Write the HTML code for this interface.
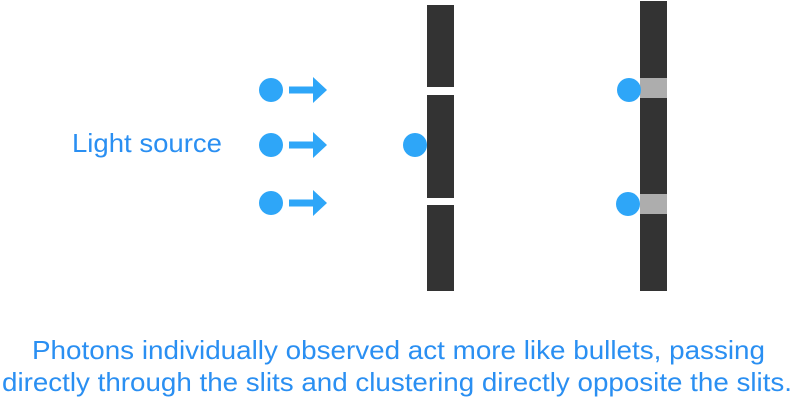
<!DOCTYPE html>
<html><head><style>
body{margin:0;background:#fff;width:794px;height:400px;overflow:hidden;}
</style></head><body>
<svg width="794" height="400" xmlns="http://www.w3.org/2000/svg">
<g fill="#2ea6f8">
<circle cx="271" cy="90" r="12"/><circle cx="271" cy="145" r="12"/><circle cx="271" cy="203" r="12"/>
<rect x="289" y="86.5" width="26" height="7"/><polygon points="313,77 327,90 313,103"/>
<rect x="289" y="141.5" width="26" height="7"/><polygon points="313,132 327,145 313,158"/>
<rect x="289" y="199.5" width="26" height="7"/><polygon points="313,190 327,203 313,216"/>
</g>
<g fill="#333">
<rect x="427" y="5" width="27" height="82"/>
<rect x="427" y="95" width="27" height="103"/>
<rect x="427" y="205" width="27" height="86"/>
<rect x="640" y="1" width="27" height="290"/>
</g>
<rect x="640" y="78" width="27" height="20" fill="#adadad"/>
<rect x="640" y="194" width="27" height="20" fill="#adadad"/>
<g fill="#2ea6f8">
<circle cx="415" cy="145" r="12"/>
<circle cx="629" cy="90" r="12"/>
<circle cx="628" cy="204" r="12"/>
</g>
<g font-family="Liberation Sans, sans-serif" font-size="26" fill="#2a8ff2">
<text x="72" y="152" textLength="150" lengthAdjust="spacingAndGlyphs">Light source</text>
<text x="32" y="359" textLength="733" lengthAdjust="spacingAndGlyphs">Photons individually observed act more like bullets, passing</text>
<text x="2" y="391" textLength="790" lengthAdjust="spacingAndGlyphs">directly through the slits and clustering directly opposite the slits.</text>
</g>
</svg>
</body></html>
